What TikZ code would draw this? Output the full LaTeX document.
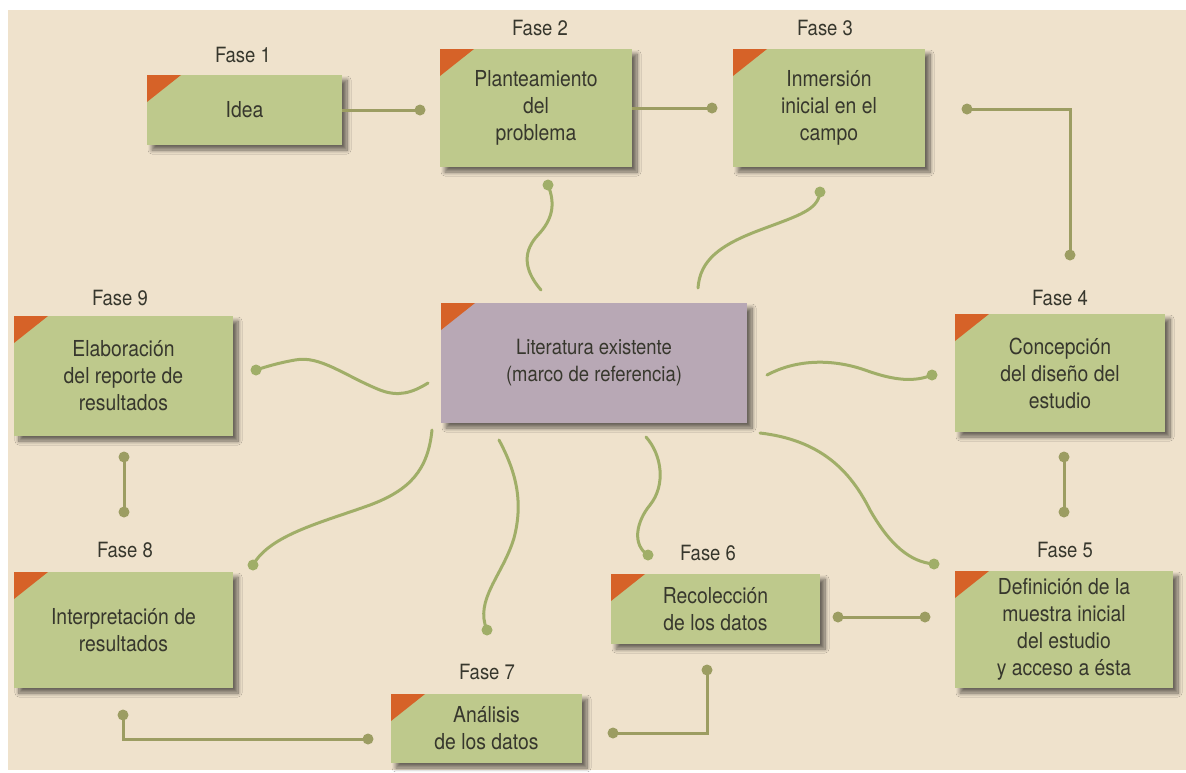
\documentclass[tikz,border=0pt]{standalone}
\usepackage{fontspec}
\setmainfont{TeX Gyre Heros}[FakeStretch=0.88]
\usetikzlibrary{shadows.blur}
\definecolor{bgcol}{RGB}{239,226,204}
\definecolor{greenfill}{RGB}{190,201,140}
\definecolor{litfill}{RGB}{184,168,181}
\definecolor{tricol}{RGB}{214,98,40}
\definecolor{curvecol}{RGB}{160,174,104}
\definecolor{linecol}{RGB}{156,157,98}
\definecolor{txtcol}{RGB}{55,55,45}
\tikzset{
  boxbase/.style={rectangle, inner sep=0pt, align=center, text=txtcol,
    font=\fontsize{22}{27}\selectfont,
    blur shadow={shadow xshift=5pt, shadow yshift=-5pt, shadow blur radius=4pt, shadow opacity=55, shadow blur steps=10},
    path picture={\fill[tricol] (path picture bounding box.north west) -- ++(34pt,0pt) -- ++(-34pt,-27pt) -- cycle;}},
  phase/.style={boxbase, fill=greenfill},
  litbox/.style={boxbase, fill=litfill, font=\fontsize{21}{27}\selectfont},
  lbl/.style={text=txtcol, font=\fontsize{21}{25}\selectfont, inner sep=0pt},
  conn/.style={draw=linecol, line width=3pt},
  wave/.style={draw=curvecol, line width=3pt, line cap=round},
}
\newcommand{\dotat}[2]{\fill[#1] (#2) circle (5.5pt);}
\begin{document}
\begin{tikzpicture}[x=1pt,y=-1pt]
\useasboundingbox (0,0) rectangle (1186,772);
\fill[white] (0,0) rectangle (1186,772);
\fill[bgcol] (8,10) rectangle (1186,770);

% boxes
\node[phase, minimum width=195pt, minimum height=70pt] (f1) at (244.5,110) {Idea};
\node[phase, minimum width=192pt, minimum height=118pt] (f2) at (536,108) {Planteamiento\\del\\problema};
\node[phase, minimum width=192pt, minimum height=118pt] (f3) at (829,108) {Inmersión\\inicial en el\\campo};
\node[phase, minimum width=210pt, minimum height=118pt] (f4) at (1060,373) {Concepción\\del diseño del\\estudio};
\node[phase, minimum width=218pt, minimum height=117pt] (f5) at (1064,629.5) {Definición de la\\muestra inicial\\del estudio\\y acceso a ésta};
\node[phase, minimum width=209pt, minimum height=70pt] (f6) at (715.5,609) {Recolección\\de los datos};
\node[phase, minimum width=191pt, minimum height=69pt] (f7) at (486.5,728.5) {Análisis\\de los datos};
\node[phase, minimum width=219pt, minimum height=116pt] (f8) at (123.5,630) {Interpretación de\\resultados};
\node[phase, minimum width=219pt, minimum height=120pt] (f9) at (123.5,376) {Elaboración\\del reporte de\\resultados};
\node[litbox, minimum width=306pt, minimum height=120pt] (lit) at (594,363) {Literatura existente\\(marco de referencia)};

% labels
\node[lbl] (l1) at (243,55) {Fase 1};
\node[lbl] (l2) at (540,28) {Fase 2};
\node[lbl] (l3) at (825,28) {Fase 3};
\node[lbl] (l4) at (1060,298) {Fase 4};
\node[lbl] (l5) at (1065,550) {Fase 5};
\node[lbl] (l6) at (708,553) {Fase 6};
\node[lbl] (l7) at (487,672) {Fase 7};
\node[lbl] (l8) at (125,550) {Fase 8};
\node[lbl] (l9) at (120,298) {Fase 9};

% straight connectors
\coordinate (d12) at (420,110);
\draw[conn] (f1.east) -- (d12); \dotat{linecol}{d12}
\coordinate (d23) at (712,108);
\draw[conn] (f2.east) -- (d23); \dotat{linecol}{d23}
\coordinate (d34a) at (967,109); \coordinate (d34b) at (1070,255);
\draw[conn] (d34a) -| (d34b); \dotat{linecol}{d34a} \dotat{linecol}{d34b}
\coordinate (d45a) at (1064,457); \coordinate (d45b) at (1064,512);
\draw[conn] (d45a) -- (d45b); \dotat{linecol}{d45a} \dotat{linecol}{d45b}
\coordinate (d56a) at (838,617); \coordinate (d56b) at (925,617);
\draw[conn] (d56a) -- (d56b); \dotat{linecol}{d56a} \dotat{linecol}{d56b}
\coordinate (d67a) at (707,670); \coordinate (d67b) at (613,733);
\draw[conn] (d67a) |- (d67b); \dotat{linecol}{d67a} \dotat{linecol}{d67b}
\coordinate (d78a) at (368,739); \coordinate (d78b) at (123,715);
\draw[conn] (d78a) -| (d78b); \dotat{linecol}{d78a} \dotat{linecol}{d78b}
\coordinate (d98a) at (124,457); \coordinate (d98b) at (124,512);
\draw[conn] (d98a) -- (d98b); \dotat{linecol}{d98a} \dotat{linecol}{d98b}

% wavy connectors from the literature box
\coordinate (wa0) at (541,290); \coordinate (wa1) at (548,185);
\draw[wave] (wa0) .. controls (522,268) and (524,250) .. (538,235) .. controls (552,220) and (556,205) .. (wa1);
\dotat{curvecol}{wa1}
\coordinate (wb0) at (698,288); \coordinate (wb1) at (820,192);
\draw[wave] (wb0) .. controls (700,260) and (720,245) .. (760,230) .. controls (800,215) and (818,210) .. (wb1);
\dotat{curvecol}{wb1}
\coordinate (wc0) at (767,375); \coordinate (wc1) at (932,375);
\draw[wave] (wc0) .. controls (795,360) and (830,358) .. (865,370) .. controls (895,381) and (915,382) .. (wc1);
\dotat{curvecol}{wc1}
\coordinate (wd0) at (428,383); \coordinate (wd1) at (256,370);
\draw[wave] (wd0) .. controls (412,393) and (398,397) .. (380,390) .. controls (345,376) and (320,355) .. (295,360) .. controls (278,363) and (265,367) .. (wd1);
\dotat{curvecol}{wd1}
\coordinate (we0) at (432,430); \coordinate (we1) at (253,565);
\draw[wave] (we0) .. controls (428,470) and (410,490) .. (370,505) .. controls (320,523) and (270,535) .. (we1);
\dotat{curvecol}{we1}
\coordinate (wf0) at (499,440); \coordinate (wf1) at (487,630);
\draw[wave] (wf0) .. controls (515,470) and (524,500) .. (514,538) .. controls (503,575) and (474,600) .. (wf1);
\dotat{curvecol}{wf1}
\coordinate (wg0) at (646,437); \coordinate (wg1) at (648,555);
\draw[wave] (wg0) .. controls (662,455) and (666,485) .. (650,505) .. controls (636,522) and (632,545) .. (wg1);
\dotat{curvecol}{wg1}
\coordinate (wh0) at (760,433); \coordinate (wh1) at (934,564);
\draw[wave] (wh0) .. controls (820,440) and (850,470) .. (870,510) .. controls (890,545) and (910,562) .. (wh1);
\dotat{curvecol}{wh1}
\end{tikzpicture}
\end{document}
